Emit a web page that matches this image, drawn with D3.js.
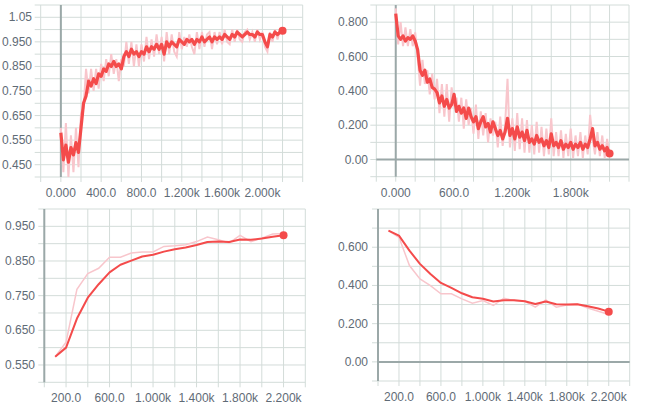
<!DOCTYPE html>
<html>
<head>
<meta charset="utf-8">
<script src="https://cdn.jsdelivr.net/npm/d3@7"></script>
<style>
  body { margin: 0; background: #fff; }
  svg { display: block; }
  .tick-label { font-family: "Liberation Sans", "Noto Sans", sans-serif; font-size: 12px; fill: #5f6b76; }
</style>
</head>
<body>
<svg id="chart" width="646" height="408"></svg>
<script>
// ---- data ----
// noisy panels: one value every 25 steps, 0 .. 2200
const stepsDense = d3.range(0, 2201, 25);
const accSmooth = [0.58,0.47,0.53,0.46,0.52,0.49,0.54,0.50,0.60,0.70,0.73,0.79,0.77,0.80,0.78,0.82,0.81,0.84,0.83,0.86,
  0.85,0.87,0.85,0.86,0.84,0.89,0.91,0.89,0.92,0.90,0.91,0.89,0.91,0.90,0.93,0.91,0.93,0.92,0.94,0.92,
  0.94,0.90,0.95,0.93,0.95,0.94,0.93,0.96,0.95,0.94,0.96,0.95,0.96,0.94,0.96,0.95,0.97,0.95,0.96,0.97,
  0.95,0.97,0.96,0.97,0.96,0.98,0.97,0.96,0.98,0.97,0.99,0.98,0.97,0.98,0.99,0.98,0.98,0.97,0.99,0.98,
  0.98,0.95,0.93,0.98,0.97,0.99,0.98,0.99,0.995];
const accRaw = [0.60,0.42,0.62,0.40,0.57,0.42,0.60,0.44,0.66,0.68,0.84,0.74,0.84,0.75,0.84,0.76,0.86,0.79,0.88,0.81,
  0.90,0.82,0.88,0.79,0.88,0.85,0.95,0.86,0.95,0.85,0.94,0.85,0.94,0.87,0.97,0.88,0.96,0.89,0.98,0.90,
  0.97,0.87,0.99,0.90,0.98,0.91,0.89,0.99,0.92,0.97,0.93,0.98,0.93,0.90,0.99,0.92,0.99,0.93,0.98,0.99,
  0.92,0.99,0.94,0.99,0.94,1.00,0.95,0.94,1.00,0.95,1.00,0.96,0.95,0.99,1.00,0.96,0.99,0.95,1.00,0.96,
  0.99,0.93,0.91,0.99,0.95,1.00,0.96,1.00,0.99];
const lossSmooth = [0.85,0.72,0.70,0.72,0.69,0.71,0.70,0.72,0.69,0.64,0.52,0.49,0.52,0.45,0.47,0.42,0.41,0.39,0.33,0.37,
  0.31,0.35,0.30,0.32,0.38,0.28,0.31,0.27,0.30,0.24,0.30,0.25,0.22,0.25,0.18,0.22,0.25,0.19,0.21,0.16,
  0.22,0.18,0.14,0.17,0.12,0.16,0.24,0.14,0.18,0.12,0.19,0.13,0.16,0.11,0.17,0.10,0.12,0.09,0.14,0.10,
  0.12,0.08,0.11,0.07,0.15,0.08,0.10,0.07,0.11,0.06,0.09,0.07,0.10,0.06,0.09,0.07,0.10,0.06,0.09,0.07,
  0.12,0.18,0.08,0.10,0.06,0.08,0.05,0.07,0.035];
const lossRaw = [0.88,0.67,0.80,0.66,0.77,0.66,0.76,0.66,0.74,0.60,0.43,0.58,0.44,0.52,0.38,0.50,0.35,0.47,0.27,0.44,
  0.25,0.44,0.22,0.42,0.31,0.36,0.22,0.36,0.18,0.35,0.20,0.30,0.15,0.32,0.12,0.28,0.14,0.27,0.10,0.24,
  0.14,0.22,0.07,0.25,0.08,0.20,0.47,0.07,0.24,0.05,0.27,0.06,0.24,0.04,0.23,0.04,0.20,0.03,0.22,0.04,
  0.19,0.02,0.18,0.03,0.24,0.02,0.16,0.02,0.17,0.01,0.15,0.02,0.18,0.01,0.14,0.02,0.16,0.01,0.14,0.03,
  0.26,0.12,0.03,0.16,0.02,0.14,0.01,0.12,0.02];

// eval panels: one value every 100 steps, 100 .. 2200
const stepsEval = d3.range(100, 2201, 100);
const evalAccSmooth = [0.574,0.600,0.684,0.744,0.783,0.817,0.839,0.851,0.863,0.868,0.877,0.884,0.889,0.896,0.905,0.906,0.905,0.912,0.911,0.915,0.920,0.924];
const evalAccRaw = [0.574,0.616,0.768,0.814,0.829,0.861,0.861,0.873,0.876,0.876,0.892,0.894,0.897,0.906,0.919,0.911,0.902,0.924,0.906,0.916,0.928,0.929];
const evalLossSmooth = [0.687,0.661,0.582,0.513,0.460,0.413,0.387,0.359,0.338,0.330,0.316,0.323,0.323,0.317,0.303,0.316,0.302,0.300,0.302,0.291,0.279,0.263];
const evalLossRaw = [0.687,0.652,0.504,0.434,0.399,0.356,0.356,0.330,0.307,0.321,0.295,0.333,0.321,0.317,0.286,0.324,0.286,0.298,0.303,0.282,0.265,0.248];

// tick labels
const xTicks1 = [0, 400, 800, 1200, 1600, 2000];
const xLabels1 = ["0.000", "400.0", "800.0", "1.200k", "1.600k", "2.000k"];
const xTicks2 = [0, 600, 1200, 1800];
const xLabels2 = ["0.000", "600.0", "1.200k", "1.800k"];
const xTicksEval = [200, 600, 1000, 1400, 1800, 2200];
const xLabelsEval = ["200.0", "600.0", "1.000k", "1.400k", "1.800k", "2.200k"];
const yTicks1 = [0.45, 0.55, 0.65, 0.75, 0.85, 0.95, 1.05];
const yLabels1 = ["0.450", "0.550", "0.650", "0.750", "0.850", "0.950", "1.05"];
const yTicks2 = [0, 0.2, 0.4, 0.6, 0.8];
const yLabels2 = ["0.00", "0.200", "0.400", "0.600", "0.800"];
const yTicks3 = [0.55, 0.65, 0.75, 0.85, 0.95];
const yLabels3 = ["0.550", "0.650", "0.750", "0.850", "0.950"];
const yTicks4 = [0, 0.2, 0.4, 0.6];
const yLabels4 = ["0.00", "0.200", "0.400", "0.600"];

const DARK = "#f44b4b";
const LIGHT = "#f8c6cc";

const svg = d3.select("#chart");

function drawPanel(opt) {
  const x = d3.scaleLinear().domain(opt.xDomain).range([opt.left, opt.right]);
  const y = d3.scaleLinear().domain(opt.yDomain).range([opt.bottom, opt.top]);
  const g = svg.append("g");

  // grid
  const xGrid = d3.range(opt.xDomain[0], opt.xDomain[1] + 1, 200);
  const yGrid = d3.range(0, Math.round((opt.yDomain[1] - opt.yDomain[0]) / opt.yStep) + 1)
    .map(i => opt.yDomain[0] + i * opt.yStep);

  g.selectAll(".hg").data(yGrid).join("line")
    .attr("x1", opt.left - 6).attr("x2", opt.right)
    .attr("y1", d => y(d)).attr("y2", d => y(d))
    .attr("stroke", "#d3dcd9").attr("stroke-width", 1);

  g.selectAll(".vg").data(xGrid).join("line")
    .attr("x1", d => x(d)).attr("x2", d => x(d))
    .attr("y1", opt.top).attr("y2", opt.bottom + 5)
    .attr("stroke", "#d3dcd9").attr("stroke-width", 1);

  // zero lines
  if (opt.xDomain[0] <= 0) {
    g.append("line")
      .attr("x1", x(0)).attr("x2", x(0)).attr("y1", opt.top).attr("y2", opt.bottom)
      .attr("stroke", "#9ba8a8").attr("stroke-width", 2);
  }
  if (opt.yDomain[0] < 0) {
    g.append("line")
      .attr("x1", opt.left).attr("x2", opt.right).attr("y1", y(0)).attr("y2", y(0))
      .attr("stroke", "#9ba8a8").attr("stroke-width", 2);
  }

  // tick labels
  g.selectAll(".xl").data(opt.xTicks).join("text")
    .attr("class", "tick-label")
    .attr("x", d => x(d)).attr("y", opt.bottom + 20)
    .attr("text-anchor", "middle")
    .text((d, i) => opt.xLabels[i]);

  g.selectAll(".yl").data(opt.yTicks).join("text")
    .attr("class", "tick-label")
    .attr("x", opt.labelRight).attr("y", d => y(d) + 4)
    .attr("text-anchor", "end")
    .text((d, i) => opt.yLabels[i]);

  const line = d3.line().x(d => x(d[0])).y(d => y(d[1]));
  const raw = opt.steps.map((s, i) => [s, opt.raw[i]]);
  const smooth = opt.steps.map((s, i) => [s, opt.smooth[i]]);

  g.append("path").datum(raw)
    .attr("d", line).attr("fill", "none")
    .attr("stroke", LIGHT).attr("stroke-width", opt.rawWidth);

  g.append("path").datum(smooth)
    .attr("d", line).attr("fill", "none")
    .attr("stroke", DARK).attr("stroke-width", opt.lineWidth)
    .attr("stroke-linejoin", "round");

  const last = smooth[smooth.length - 1];
  g.append("circle")
    .attr("cx", x(last[0])).attr("cy", y(last[1])).attr("r", 4)
    .attr("fill", DARK);
}

drawPanel({
  left: 40.7, right: 302.7, top: 5, bottom: 177, labelRight: 32,
  xDomain: [-200, 2400], yDomain: [0.40, 1.10], yStep: 0.05,
  xTicks: xTicks1, xLabels: xLabels1, yTicks: yTicks1, yLabels: yLabels1,
  steps: stepsDense, smooth: accSmooth, raw: accRaw, lineWidth: 3.2, rawWidth: 2
});

drawPanel({
  left: 376.3, right: 629, top: 5, bottom: 176.7, labelRight: 368,
  xDomain: [-200, 2400], yDomain: [-0.1, 0.9], yStep: 0.1,
  xTicks: xTicks2, xLabels: xLabels2, yTicks: yTicks2, yLabels: yLabels2,
  steps: stepsDense, smooth: lossSmooth, raw: lossRaw, lineWidth: 3.2, rawWidth: 2
});

drawPanel({
  left: 44.3, right: 305.3, top: 209, bottom: 382.3, labelRight: 35,
  xDomain: [0, 2400], yDomain: [0.5, 1.0], yStep: 0.05,
  xTicks: xTicksEval, xLabels: xLabelsEval, yTicks: yTicks3, yLabels: yLabels3,
  steps: stepsEval, smooth: evalAccSmooth, raw: evalAccRaw, lineWidth: 2, rawWidth: 1.5
});

drawPanel({
  left: 378, right: 629.7, top: 209, bottom: 381, labelRight: 368,
  xDomain: [0, 2400], yDomain: [-0.1, 0.8], yStep: 0.1,
  xTicks: xTicksEval, xLabels: xLabelsEval, yTicks: yTicks4, yLabels: yLabels4,
  steps: stepsEval, smooth: evalLossSmooth, raw: evalLossRaw, lineWidth: 2, rawWidth: 1.5
});
</script>
</body>
</html>
